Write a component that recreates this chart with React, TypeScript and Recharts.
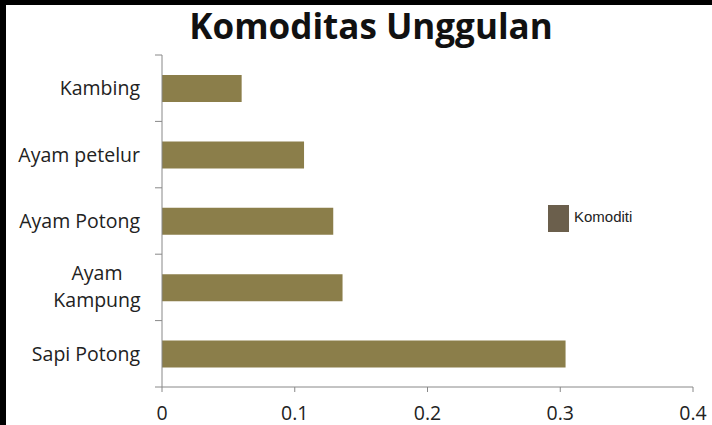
import React from "react";
import { BarChart, Bar, XAxis, YAxis } from "recharts";

const categories = ["Kambing", "Ayam petelur", "Ayam Potong", "Ayam\nKampung", "Sapi Potong"];
const komoditiValues = [0.06, 0.107, 0.129, 0.136, 0.304];
const xTicks = [0, 0.1, 0.2, 0.3, 0.4];

const data = categories.map((name, i) => ({ name, value: komoditiValues[i] }));

const FONT = "'Open Sans', sans-serif";
const AXIS_X = 162;
const TOP = 55;
const BOTTOM = 387;
const BAND = (BOTTOM - TOP) / categories.length;
const AXIS_COLOR = "#888";
const LABEL_SIZE = 19.5;

const CategoryTick = (props: any) => {
  const { y, payload, index } = props;
  const lines = String(payload.value).split("\n");
  const tx = AXIS_X - 22;
  return (
    <g>
      <line x1={AXIS_X - 7} x2={AXIS_X} y1={y - BAND / 2} y2={y - BAND / 2} stroke={AXIS_COLOR} />
      {index === categories.length - 1 && (
        <line x1={AXIS_X - 7} x2={AXIS_X} y1={y + BAND / 2} y2={y + BAND / 2} stroke={AXIS_COLOR} />
      )}
      {lines.length === 1 ? (
        <text x={tx} y={y} dy={7} textAnchor="end" fontFamily={FONT} fontSize={LABEL_SIZE} fill="#222">
          {lines[0]}
        </text>
      ) : (
        <text x={tx - 43} y={y} textAnchor="middle" fontFamily={FONT} fontSize={LABEL_SIZE} fill="#222">
          <tspan x={tx - 43} dy={-7}>{lines[0]}</tspan>
          <tspan x={tx - 43} dy={27}>{lines[1]}</tspan>
        </text>
      )}
    </g>
  );
};

export default function App() {
  return (
    <div style={{ position: "absolute", left: 0, top: 0, width: 712, height: 425, background: "#fff", overflow: "hidden" }}>
      <div style={{ position: "absolute", left: 0, top: 0, width: 712, height: 5, background: "#000" }} />
      <div style={{ position: "absolute", left: 0, top: 0, width: 6, height: 425, background: "#000" }} />
      <div
        style={{
          position: "absolute",
          left: 0,
          top: 2,
          width: 742,
          textAlign: "center",
          fontFamily: FONT,
          fontWeight: 700,
          fontSize: 35,
          color: "#111",
        }}
      >
        Komoditas Unggulan
      </div>
      <BarChart
        width={712}
        height={425}
        data={data}
        layout="vertical"
        margin={{ top: TOP, right: 19, bottom: 0, left: 0 }}
        style={{ position: "absolute", left: 0, top: 0 }}
      >
        <XAxis
          type="number"
          domain={[0, 0.4]}
          ticks={xTicks}
          tickFormatter={(v: number) => String(v)}
          height={425 - BOTTOM}
          stroke={AXIS_COLOR}
          tickSize={5}
          tickMargin={14}
          tick={{ fontFamily: FONT, fontSize: LABEL_SIZE, fill: "#222" }}
        />
        <YAxis
          type="category"
          dataKey="name"
          width={AXIS_X}
          stroke={AXIS_COLOR}
          tickLine={false}
          tick={<CategoryTick />}
          interval={0}
        />
        <Bar dataKey="value" fill="#8b7e4a" barSize={27} isAnimationActive={false} />
      </BarChart>
      <div style={{ position: "absolute", left: 548, top: 205, width: 21, height: 27, background: "#6b5f4c" }} />
      <div
        style={{
          position: "absolute",
          left: 574,
          top: 208,
          fontFamily: "'Liberation Sans', Arial, sans-serif",
          fontSize: 15,
          color: "#222",
        }}
      >
        Komoditi
      </div>
    </div>
  );
}
